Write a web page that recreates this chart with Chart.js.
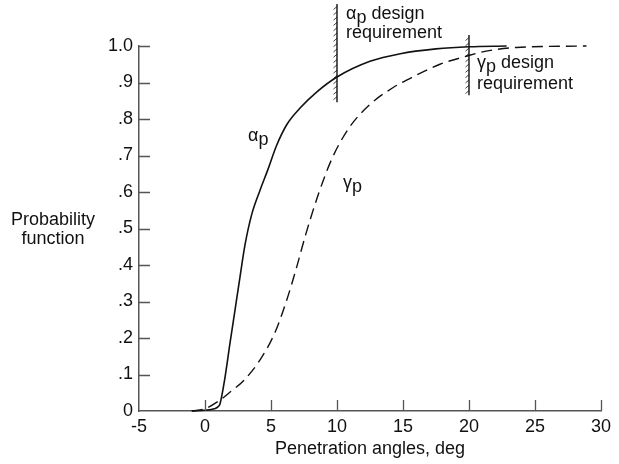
<!DOCTYPE html>
<html>
<head>
<meta charset="utf-8">
<script src="https://cdn.jsdelivr.net/npm/chart.js@4.4.0/dist/chart.umd.min.js"></script>
<style>
  html, body { margin: 0; padding: 0; background: #fff; }
  #wrap { width: 619px; height: 464px; position: relative; }
</style>
</head>
<body>
<div id="wrap"><canvas id="probChart"></canvas></div>
<script>
// axis ticks
const xTicks = [-5, 0, 5, 10, 15, 20, 25, 30];
const yTicks = [0, 0.1, 0.2, 0.3, 0.4, 0.5, 0.6, 0.7, 0.8, 0.9, 1.0];
const yTickLabels = ['0', '.1', '.2', '.3', '.4', '.5', '.6', '.7', '.8', '.9', '1.0'];

// alpha_p curve (solid)
const alphaX = [-1.0, 0, 0.7, 1.0, 1.14, 1.52, 1.89, 2.27, 2.65, 3.03, 3.55, 4.17, 4.75, 5.43, 6.2, 7.2, 8.5, 10, 12.5, 14.8, 17.5, 20, 22.85];
const alphaY = [0, 0.002, 0.006, 0.012, 0.02, 0.093, 0.185, 0.276, 0.367, 0.455, 0.54, 0.605, 0.66, 0.728, 0.785, 0.83, 0.875, 0.915, 0.958, 0.979, 0.992, 0.998, 1.0];

// gamma_p curve (dashed)
const gammaX = [-1.0, 0, 1.14, 2.0, 2.9, 4.17, 5.3, 6.2, 6.95, 7.6, 8.6, 9.6, 10.9, 12.5, 14.2, 15.9, 17.8, 19.8, 21.3, 23.6, 28.9];
const gammaY = [0, 0.006, 0.03, 0.055, 0.082, 0.14, 0.215, 0.305, 0.395, 0.48, 0.595, 0.69, 0.775, 0.84, 0.885, 0.918, 0.95, 0.972, 0.986, 0.996, 1.0];

// design requirement markers
const reqX = [10, 20];
const reqTop = [1.115, 1.03];
const reqBottom = [0.846, 0.865];

const FONT = '"Liberation Sans", Arial, sans-serif';
const INK = '#111';
const AXIS = '#555';

function toPoints(xs, ys) {
    return xs.map((x, i) => ({x: x, y: ys[i]}));
}

// greek letter with subscript p, then optional rest of the text
function greekSub(ctx, letter, rest, x, y) {
    ctx.font = '18px ' + FONT;
    ctx.textAlign = 'left';
    ctx.textBaseline = 'alphabetic';
    ctx.fillText(letter, x, y);
    let w = ctx.measureText(letter).width;
    ctx.fillText('p', x + w, y + 4);
    w += ctx.measureText('p').width;
    if (rest) ctx.fillText(rest, x + w + 5, y);
}

const extras = {
    id: 'extras',
    afterDraw(chart) {
        const ctx = chart.ctx;
        const xs = chart.scales.x, ys = chart.scales.y;
        const area = chart.chartArea;
        ctx.save();

        // inward tick marks
        ctx.strokeStyle = AXIS;
        ctx.lineWidth = 1.3;
        ctx.beginPath();
        xTicks.forEach(v => {
            if (v === xs.min) return;
            const px = Math.round(xs.getPixelForValue(v)) + 0.5;
            ctx.moveTo(px, area.bottom);
            ctx.lineTo(px, area.bottom - 11);
        });
        yTicks.forEach(v => {
            if (v === ys.min) return;
            const py = Math.round(ys.getPixelForValue(v)) + 0.5;
            ctx.moveTo(area.left, py);
            ctx.lineTo(area.left + 11, py);
        });
        ctx.stroke();

        // design requirement lines with hatching on the left
        ctx.strokeStyle = INK;
        reqX.forEach((v, i) => {
            const px = xs.getPixelForValue(v);
            const top = ys.getPixelForValue(reqTop[i]);
            const bot = ys.getPixelForValue(reqBottom[i]);
            ctx.lineWidth = 1.4;
            ctx.beginPath();
            ctx.moveTo(px, top);
            ctx.lineTo(px, bot);
            ctx.stroke();
            ctx.lineWidth = 0.8;
            ctx.beginPath();
            for (let y = top + 4; y < bot - 1; y += 5.3) {
                ctx.moveTo(px - 3.5, y + 1.5);
                ctx.lineTo(px, y - 1.5);
            }
            ctx.stroke();
        });

        // text labels
        ctx.fillStyle = INK;
        greekSub(ctx, 'α', 'design', 346, 19);
        ctx.fillText('requirement', 346, 38);
        greekSub(ctx, 'γ', 'design', 477, 68);
        ctx.fillText('requirement', 477, 89);
        greekSub(ctx, 'α', '', 248, 141);
        greekSub(ctx, 'γ', '', 343, 188);

        // y axis title, horizontal
        ctx.textAlign = 'center';
        ctx.fillText('Probability', 53, 225);
        ctx.fillText('function', 53, 244);
        ctx.restore();
    }
};

new Chart(document.getElementById('probChart'), {
    type: 'scatter',
    data: {
        datasets: [
            {
                label: 'alpha_p',
                data: toPoints(alphaX, alphaY),
                showLine: true,
                borderColor: INK,
                borderWidth: 1.6,
                pointRadius: 0,
                cubicInterpolationMode: 'monotone',
                clip: false
            },
            {
                label: 'gamma_p',
                data: toPoints(gammaX, gammaY),
                showLine: true,
                borderColor: INK,
                borderWidth: 1.4,
                borderDash: [11, 6],
                pointRadius: 0,
                cubicInterpolationMode: 'monotone',
                clip: false
            }
        ]
    },
    options: {
        responsive: true,
        maintainAspectRatio: false,
        animation: false,
        layout: { padding: { left: 0, top: 46, right: 18, bottom: 0 } },
        plugins: { legend: { display: false }, tooltip: { enabled: false } },
        scales: {
            x: {
                type: 'linear',
                min: -5, max: 30,
                afterBuildTicks: s => { s.ticks = xTicks.map(v => ({value: v})); },
                afterFit: s => { s.height = 53; },
                grid: { display: false, drawTicks: false },
                border: { display: true, color: AXIS, width: 1.5 },
                ticks: { color: INK, padding: 5, font: { family: FONT, size: 18 } },
                title: {
                    display: true,
                    text: 'Penetration angles, deg',
                    color: INK,
                    font: { family: FONT, size: 18 },
                    padding: { top: 4, bottom: 4 }
                }
            },
            y: {
                type: 'linear',
                min: 0, max: 1,
                afterBuildTicks: s => { s.ticks = yTicks.map(v => ({value: v})); },
                afterFit: s => { s.width = 139; },
                grid: { display: false, drawTicks: false },
                border: { display: true, color: AXIS, width: 1.5 },
                ticks: {
                    color: INK,
                    padding: 6,
                    font: { family: FONT, size: 18 },
                    callback: (v) => {
                        const i = yTicks.findIndex(t => Math.abs(t - v) < 1e-6);
                        return i >= 0 ? yTickLabels[i] : '';
                    }
                }
            }
        }
    },
    plugins: [extras]
});
</script>
</body>
</html>
